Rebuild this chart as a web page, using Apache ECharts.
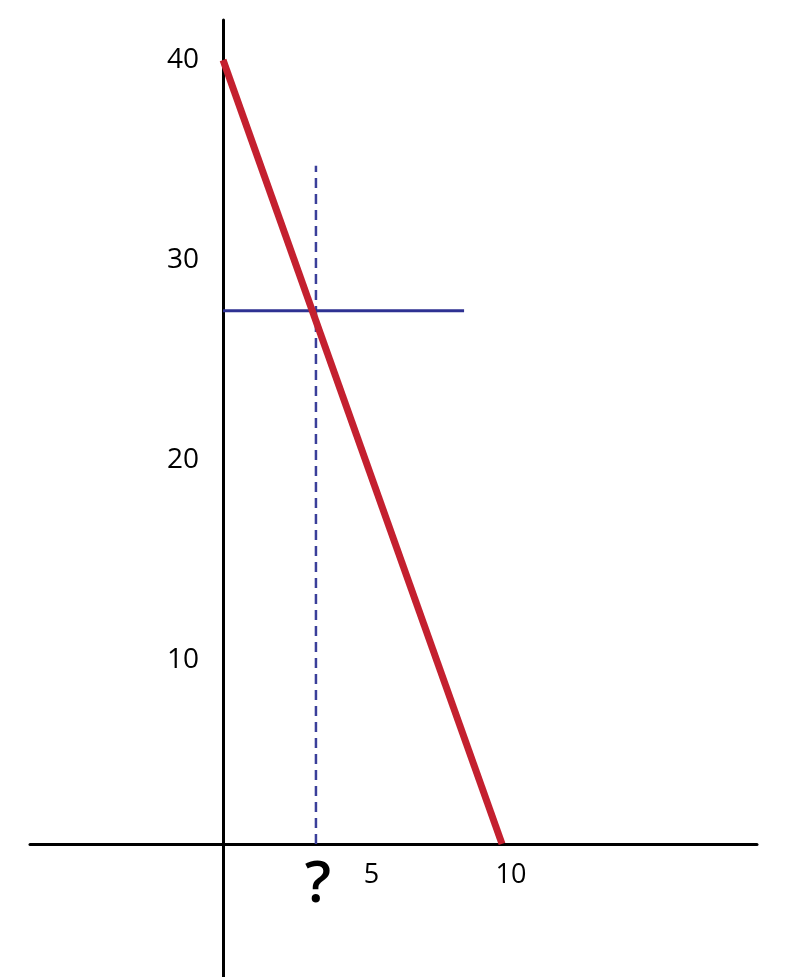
<!DOCTYPE html>
<html>
<head>
<meta charset="utf-8">
<script src="https://cdn.jsdelivr.net/npm/echarts@6/dist/echarts.min.js"></script>
<style>html,body{margin:0;padding:0;background:#fff;}#c{width:800px;height:977px;}</style>
</head>
<body>
<div id="c"></div>
<script>
// Data
const redX = [0, 10];
const redY = [40, 0];
const guideLevel = 27.2;      // horizontal blue line value
const guideEndX = 8.64;       // where horizontal line ends
const unknownX = 3.33;        // dashed line / "?" position
const dashedTop = 34.6;       // top of the dashed line
const yTicks = [10, 20, 30, 40];
const xTicks = [5, 10];

const chart = echarts.init(document.getElementById('c'));
const FONT = '"Open Sans", "Noto Sans", sans-serif';
const X_MIN = -6.92, X_MAX = 19.14, Y_MIN = -6.79, Y_MAX = 42.04;

chart.setOption({
  animation: false,
  grid: [
    { left: 30, right: 43, top: 20, bottom: 0, containLabel: false, outerBoundsMode: 'none' },
    // x-label grid: left/bottom edges on the zero lines of grid 0
    { left: 223, right: 43, top: 20, bottom: 133, containLabel: false, outerBoundsMode: 'none' },
    // y-label grid: tick labels spaced as in the original illustration
    { left: 223, right: 43, top: 20, bottom: 117, containLabel: false, outerBoundsMode: 'none' }
  ],
  xAxis: [
    {
      type: 'value', gridIndex: 0, min: X_MIN, max: X_MAX,
      splitLine: { show: false },
      axisLine: { onZero: true, lineStyle: { color: '#000', width: 3 } },
      axisTick: { show: false }, axisLabel: { show: false }
    },
    {
      type: 'value', gridIndex: 1, min: 0, max: X_MAX,
      splitLine: { show: false }, axisLine: { show: false }, axisTick: { show: false },
      axisLabel: {
        customValues: [unknownX].concat(xTicks),
        margin: 12,
        formatter: function (v) { return Math.abs(v - unknownX) < 1e-6 ? '{q|?}' : '{n|' + v + '}'; },
        rich: {
          n: { fontFamily: FONT, fontSize: 27, color: '#000', padding: [6, 0, 0, 18] },
          q: { fontFamily: FONT, fontSize: 58, fontWeight: 600, color: '#000', padding: [0, 0, 0, 4] }
        }
      }
    },
    {
      type: 'value', gridIndex: 2, min: 0, max: X_MAX, show: false
    }
  ],
  yAxis: [
    {
      type: 'value', gridIndex: 0, min: Y_MIN, max: Y_MAX,
      splitLine: { show: false },
      axisLine: { onZero: true, lineStyle: { color: '#000', width: 3 } },
      axisTick: { show: false }, axisLabel: { show: false }
    },
    {
      type: 'value', gridIndex: 1, min: 0, max: Y_MAX, show: false
    },
    {
      type: 'value', gridIndex: 2, min: 0, max: 42,
      splitLine: { show: false }, axisLine: { show: false }, axisTick: { show: false },
      axisLabel: {
        customValues: yTicks,
        margin: 24,
        fontFamily: FONT, fontSize: 28, color: '#000'
      }
    }
  ],
  series: [
    {
      type: 'line', silent: true, symbol: 'none', z: 3,
      data: [[unknownX, 0], [unknownX, dashedTop]],
      lineStyle: { color: '#3a3f9a', width: 2.5, type: [10, 6] }
    },
    {
      type: 'line', silent: true, symbol: 'none', z: 4,
      data: [[0, guideLevel], [guideEndX, guideLevel]],
      lineStyle: { color: '#2e3192', width: 3 }
    },
    {
      type: 'line', silent: true, symbol: 'none', z: 5,
      data: redX.map(function (x, i) { return [x, redY[i]]; }),
      lineStyle: { color: '#c4202f', width: 7, cap: 'butt' }
    }
  ]
});
</script>
</body>
</html>
